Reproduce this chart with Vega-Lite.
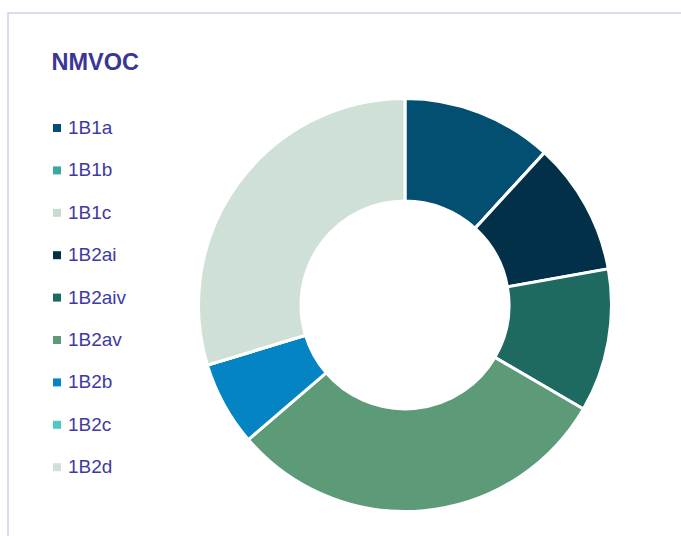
{
  "$schema": "https://vega.github.io/schema/vega-lite/v6.json",
  "width": 794,
  "height": 584,
  "autosize": "none",
  "padding": {"left": 8, "top": 13, "right": -121, "bottom": -61},
  "background": "white",
  "view": {"stroke": "#d2cff0", "strokeWidth": 1.5},
  "data": {
    "values": [
      {"cat": "1B1a", "value": 11.8},
      {"cat": "1B1b", "value": 0},
      {"cat": "1B1c", "value": 0},
      {"cat": "1B2ai", "value": 10.4},
      {"cat": "1B2aiv", "value": 11.2},
      {"cat": "1B2av", "value": 30.3},
      {"cat": "1B2b", "value": 6.6},
      {"cat": "1B2c", "value": 0},
      {"cat": "1B2d", "value": 29.7}
    ]
  },
  "mark": {"type": "arc", "radius": 206.5, "innerRadius": 104, "stroke": "white", "strokeWidth": 3},
  "encoding": {
    "theta": {"field": "value", "type": "quantitative", "stack": true},
    "order": {"field": "cat", "type": "nominal", "sort": "ascending"},
    "color": {
      "field": "cat",
      "type": "nominal",
      "scale": {
        "domain": ["1B1a", "1B1b", "1B1c", "1B2ai", "1B2aiv", "1B2av", "1B2b", "1B2c", "1B2d"],
        "range": ["#034f72", "#38a8a0", "#c6dccf", "#023048", "#1f6a60", "#5d9a78", "#0584c4", "#4fc9c0", "#cfe1d6"]
      },
      "legend": {
        "orient": "none",
        "legendX": 43.5,
        "legendY": 37.5,
        "title": "NMVOC",
        "titleFont": "Liberation Sans",
        "titleFontSize": 23.5,
        "titleFontWeight": "bold",
        "titleColor": "#3a3597",
        "titlePadding": 44.5,
        "labelFont": "Liberation Sans",
        "labelFontSize": 19,
        "labelColor": "#3f3aa3",
        "labelOffset": 1.5,
        "symbolOffset": -4,
        "symbolType": "square",
        "symbolSize": 64,
        "symbolStrokeWidth": 0,
        "symbolOpacity": 1,
        "rowPadding": 22.4
      }
    }
  }
}
